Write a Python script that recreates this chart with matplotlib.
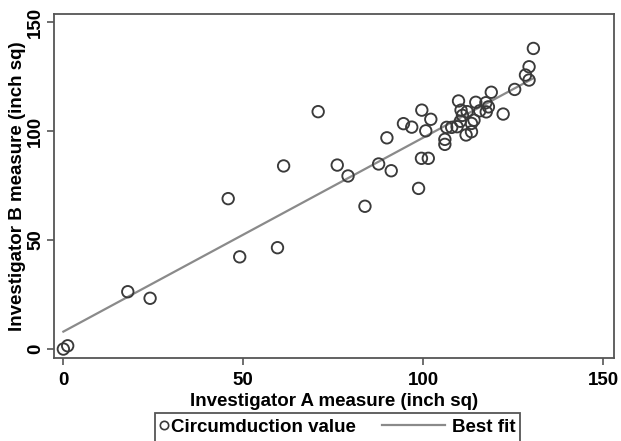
import matplotlib
matplotlib.use("Agg")
import matplotlib.pyplot as plt
import numpy as np
from matplotlib.lines import Line2D
from matplotlib.patches import Rectangle
from matplotlib.legend_handler import HandlerLine2D

plt.rcParams['font.family'] = ['Liberation Sans', 'DejaVu Sans']
plt.rcParams['font.weight'] = 'bold'

# Data
inv_a = [0, 1.2, 17.9, 24.1, 45.8, 49.0, 59.5, 61.2, 70.8, 76.1, 79.1, 83.8,
         87.6, 89.9, 91.1, 94.5, 96.8, 99.6, 102.1, 100.7, 99.5, 101.4, 98.7,
         106.0, 106.0, 106.5, 107.9, 109.4, 110.3, 110.9, 111.9, 113.4, 113.4,
         114.1, 110.5, 112.2, 109.8, 114.6, 115.7, 117.4, 117.5, 118.1, 118.9,
         122.2, 125.4, 128.4, 129.4, 129.4, 130.6]
inv_b = [0, 1.5, 26.3, 23.3, 69.0, 42.3, 46.5, 84.0, 108.9, 84.4, 79.4, 65.5,
         84.9, 96.9, 81.8, 103.4, 101.8, 109.6, 105.4, 100.1, 87.5, 87.5, 73.7,
         96.2, 93.9, 101.7, 101.7, 102.0, 104.5, 107.2, 98.2, 99.7, 103.5,
         105.0, 109.6, 108.9, 113.8, 113.2, 109.3, 113.0, 108.8, 111.1, 117.8,
         107.8, 119.1, 125.7, 123.4, 129.5, 137.9]
fit_intercept = 8.0
fit_slope = 0.89
x_ticks = [0, 50, 100, 150]
y_ticks = [0, 50, 100, 150]

FS = 13.5
W, H = 621, 441
fig = plt.figure(figsize=(W / 100, H / 100), dpi=100)
ax = fig.add_axes([54 / W, 1 - 358 / H, (614 - 54) / W, (358 - 14) / H])

frame_col = '#555555'
mark_col = '#3a3a3a'
line_col = '#8a8a8a'
ax.scatter(inv_a, inv_b, s=68, facecolors='none', edgecolors=mark_col,
           linewidths=1.35, zorder=3)
xf = np.array([min(inv_a), max(inv_a)])
ax.plot(xf, fit_intercept + fit_slope * xf, color=line_col, lw=1.6, zorder=2)

ax.set_xlim(-2.6, 153)
ax.set_ylim(-4.1, 153.7)
ax.set_xticks(x_ticks)
ax.set_yticks(y_ticks)
ax.tick_params(axis='both', direction='out', length=5, width=1.2,
               color=frame_col, labelsize=FS)
ax.tick_params(axis='x', pad=5)
ax.tick_params(axis='y', pad=2)
for lab in ax.get_yticklabels():
    lab.set_rotation(90)
    lab.set_va('center')
for lab in ax.get_xticklabels() + ax.get_yticklabels():
    lab.set_fontweight('bold')
for sp in ax.spines.values():
    sp.set_color(frame_col)
    sp.set_linewidth(1.3)

ax.set_xlabel('Investigator A measure (inch sq)', fontsize=FS, fontweight='bold', labelpad=3)
ax.set_ylabel('Investigator B measure (inch sq)', fontsize=FS, fontweight='bold', labelpad=1)


class LongLine(HandlerLine2D):
    def create_artists(self, legend, orig_handle, xdescent, ydescent,
                       width, height, fontsize, trans):
        arts = super().create_artists(legend, orig_handle, xdescent, ydescent,
                                      width, height, fontsize, trans)
        right = width - xdescent - 0.22 * fontsize
        for a in arts:
            y0 = np.atleast_1d(a.get_ydata())[0]
            a.set_markevery(None)
            a.set_data([right - 3.35 * fontsize, right], [y0, y0])
        return arts


class RightMarker(HandlerLine2D):
    def create_artists(self, legend, orig_handle, xdescent, ydescent,
                       width, height, fontsize, trans):
        arts = super().create_artists(legend, orig_handle, xdescent, ydescent,
                                      width, height, fontsize, trans)
        for a in arts:
            yd = np.atleast_1d(a.get_ydata())
            a.set_data(np.full(len(yd), width - xdescent - 0.25 * fontsize), yd)
        return arts


h_mark = Line2D([], [], marker='o', ls='none', mfc='none', mec=mark_col,
                ms=6, mew=1.2)
h_line = Line2D([], [], color=line_col, lw=1.6)
leg = fig.legend([h_mark, h_line], ['Circumduction value', 'Best fit'], ncol=2,
                 loc='upper center', bbox_to_anchor=(337.5 / W, 1 - 415 / H),
                 frameon=False,
                 prop={'weight': 'bold', 'size': FS},
                 handlelength=0.5, handletextpad=0.15, columnspacing=4.47,
                 borderpad=0.2, borderaxespad=0,
                 handler_map={h_line: LongLine(), h_mark: RightMarker()})

# legend frame: open at the bottom edge of the figure, as in the reference
fig.canvas.draw()
bb = leg.get_window_extent()
x0, x1 = bb.x0 / W, bb.x1 / W
y_top = 1 - 413 / H
fig.add_artist(Rectangle((x0, -0.05), x1 - x0, y_top + 0.05,
                         transform=fig.transFigure, fill=False,
                         edgecolor=frame_col, linewidth=1.3, clip_on=False))

fig.savefig('out.png', dpi=100)
